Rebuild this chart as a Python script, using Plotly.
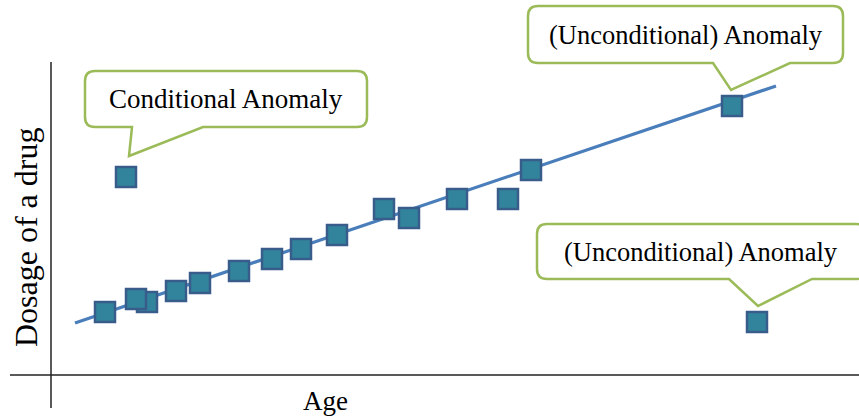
import plotly.graph_objects as go

# ---- data (arbitrary units: Age vs Dosage) ----
age = [5.4, 9.6, 8.5, 12.5, 14.9, 18.8, 22.1, 25.0, 28.6, 33.3, 35.8, 40.6, 45.7, 48.0, 68.1, 70.6, 7.5]
dosage = [6.3, 7.3, 7.6, 8.4, 9.2, 10.4, 11.6, 12.6, 14.0, 16.6, 15.7, 17.6, 17.6, 20.5, 26.9, 5.3, 19.8]
fit_age = [2.4, 72.5]
fit_dosage = [5.2, 28.9]
callout_texts = ["Conditional Anomaly", "(Unconditional) Anomaly", "(Unconditional) Anomaly"]
x_label = "Age"
y_label = "Dosage of a drug"

W, H = 859, 419
FONT = "Liberation Serif, Times New Roman, serif"


def dx(px):
    return (px - 51) / 10.0


def dy(py):
    return (375 - py) / 10.0


fig = go.Figure()
fig.add_trace(go.Scatter(x=fit_age, y=fit_dosage, mode="lines",
                         line=dict(color="#4A7EBB", width=3.2), hoverinfo="skip",
                         showlegend=False))
fig.add_trace(go.Scatter(x=age, y=dosage, mode="markers",
                         marker=dict(symbol="square", size=20, color="#31849B",
                                     line=dict(color="#385D8A", width=2.5)),
                         showlegend=False))


def callout_path(l, t, r, b, t1, tip, t2, rad=10):
    pts = []
    pts.append(f"M{dx(l+rad)},{dy(t)}")
    pts.append(f"L{dx(r-rad)},{dy(t)}")
    pts.append(f"Q{dx(r)},{dy(t)} {dx(r)},{dy(t+rad)}")
    pts.append(f"L{dx(r)},{dy(b-rad)}")
    pts.append(f"Q{dx(r)},{dy(b)} {dx(r-rad)},{dy(b)}")
    pts.append(f"L{dx(t2)},{dy(b)}")
    pts.append(f"L{dx(tip[0])},{dy(tip[1])}")
    pts.append(f"L{dx(t1)},{dy(b)}")
    pts.append(f"L{dx(l+rad)},{dy(b)}")
    pts.append(f"Q{dx(l)},{dy(b)} {dx(l)},{dy(b-rad)}")
    pts.append(f"L{dx(l)},{dy(t+rad)}")
    pts.append(f"Q{dx(l)},{dy(t)} {dx(l+rad)},{dy(t)}")
    pts.append("Z")
    return " ".join(pts)


boxes = [
    (85, 71, 367, 127, 132, (129, 156), 203),
    (528, 6, 843, 63, 713, (731, 90), 790),
    (537, 224, 866, 279, 729, (758, 306), 812),
]
text_sizes = [27, 26.5, 26.5]

shapes = []
# axes
shapes.append(dict(type="line", x0=dx(10), x1=dx(859), y0=0, y1=0,
                   line=dict(color="#222222", width=1.5), layer="below"))
shapes.append(dict(type="line", x0=0, x1=0, y0=dy(62), y1=dy(408),
                   line=dict(color="#222222", width=1.5), layer="below"))
for b in boxes:
    shapes.append(dict(type="path", path=callout_path(*b), fillcolor="white",
                       line=dict(color="#9BBB59", width=2.5), layer="above"))

annotations = []
for b, txt, fs in zip(boxes, callout_texts, text_sizes):
    cx = (b[0] + b[2]) / 2
    cy = (b[1] + b[3]) / 2
    if b[2] > W:
        cx = 701
    annotations.append(dict(x=dx(cx), y=dy(cy), text=txt, showarrow=False,
                            xanchor="center", yanchor="middle",
                            font=dict(family=FONT, size=fs, color="black")))
annotations.append(dict(x=dx(325), y=dy(401), text=x_label, showarrow=False,
                        xanchor="center", yanchor="middle",
                        font=dict(family=FONT, size=27, color="black")))
annotations.append(dict(x=dx(26), y=dy(238), text=y_label, showarrow=False,
                        textangle=-90, xanchor="center", yanchor="middle",
                        font=dict(family=FONT, size=32, color="black")))

fig.update_layout(
    width=W, height=H,
    margin=dict(l=0, r=0, t=0, b=0),
    paper_bgcolor="white", plot_bgcolor="white",
    xaxis=dict(range=[dx(0), dx(W)], visible=False, fixedrange=True),
    yaxis=dict(range=[dy(H), dy(0)], visible=False, fixedrange=True),
    shapes=shapes, annotations=annotations,
    showlegend=False,
)

fig.write_html("out.html", config={"displayModeBar": False},
               post_script="document.body.style.margin='0';document.body.style.overflow='hidden';")
